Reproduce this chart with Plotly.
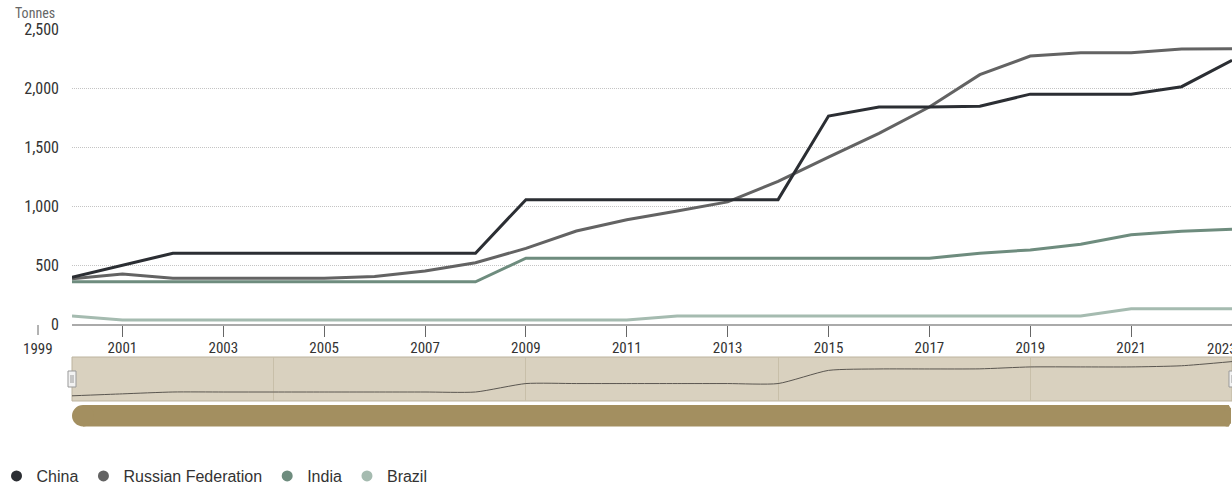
import plotly.graph_objects as go

years = list(range(2000, 2024))
china = [395, 500, 600, 600, 600, 600, 600, 600, 600, 1054, 1054, 1054, 1054, 1054, 1054,
         1762, 1839, 1839, 1845, 1948, 1948, 1948, 2011, 2235]
russia = [384, 423, 388, 387, 387, 387, 402, 450, 519, 641, 788, 883, 958, 1035, 1208,
          1415, 1615, 1839, 2113, 2271, 2299, 2299, 2330, 2333]
india = [358, 358, 358, 358, 358, 358, 358, 358, 358, 558, 558, 558, 558, 558, 558,
         558, 558, 558, 600, 628, 676, 757, 785, 803]
brazil = [67, 34, 34, 34, 34, 34, 34, 34, 34, 34, 34, 34, 67, 67, 67,
          67, 67, 67, 67, 67, 67, 130, 130, 130]

series_names = ["China", "Russian Federation", "India", "Brazil"]
series_values = [china, russia, india, brazil]
series_colors = ["#2b2e33", "#636363", "#6e8c7e", "#a5bbb0"]

y_ticks = [0, 500, 1000, 1500, 2000, 2500]
y_tick_labels = ["0", "500", "1,000", "1,500", "2,000", "2,500"]
x_ticks = list(range(2001, 2022, 2))
x_tick_labels = [str(v) for v in x_ticks]
x_edge_labels = ["1999", "2023"]  # justified labels at both ends of the axis

W, H = 1232, 486
ML, MR, MT, MB = 72, 0, 29, 59
PW, PH = W - ML - MR, H - MT - MB

def fy(px):  # figure pixel y -> paper fraction
    return (H - MB - px) / PH

NARROW = "Liberation Sans Narrow, Arial Narrow, Roboto Condensed, Roboto, sans-serif"
SANS = "Liberation Sans, Arial, sans-serif"

fig = go.Figure()

# main series (drawn last-to-first so China sits on top)
for name, vals, col in reversed(list(zip(series_names, series_values, series_colors))):
    fig.add_trace(go.Scatter(x=years, y=vals, mode="lines", name=name,
                             line=dict(color=col, width=3), legendgroup=name,
                             showlegend=False, xaxis="x", yaxis="y",
                             hovertemplate="%{x}: %{y:,} t<extra>" + name + "</extra>"))

# legend entries (dots)
for name, col in zip(series_names, series_colors):
    fig.add_trace(go.Scatter(x=[None], y=[None], mode="markers", name=name,
                             marker=dict(color=col, size=11), legendgroup=name,
                             showlegend=True, xaxis="x", yaxis="y"))

# navigator series
fig.add_trace(go.Scatter(x=years, y=china, mode="lines",
                         line=dict(color="#5a5650", width=1, shape="spline", smoothing=0.6),
                         showlegend=False, hoverinfo="skip", xaxis="x2", yaxis="y2"))

main_bottom = fy(324)
nav_bottom, nav_top = fy(401), fy(357)

fig.update_layout(
    width=W, height=H,
    margin=dict(l=ML, r=MR, t=MT, b=MB, autoexpand=False),
    paper_bgcolor="white", plot_bgcolor="white",
    font=dict(family=NARROW, color="#333333"),
    xaxis=dict(domain=[0, 1], range=[2000, 2023], tickmode="array", tickvals=x_ticks,
               ticktext=x_tick_labels, ticks="outside", ticklen=11, tickwidth=1,
               tickcolor="#666666", showline=True, linecolor="#aaaaaa", linewidth=2,
               showgrid=False, zeroline=False, anchor="y", ticklabelstandoff=-2,
               tickfont=dict(family=NARROW, size=15, color="#333333"), fixedrange=True),
    yaxis=dict(domain=[main_bottom, 1], range=[0, 2500], tickmode="array", tickvals=y_ticks,
               ticktext=y_tick_labels, showgrid=True, gridcolor="#c4c4c4", griddash="1px,1px",
               gridwidth=1, zeroline=False, showline=False, ticks="", ticklabelstandoff=12,
               tickfont=dict(family=NARROW, size=16, color="#333333"), anchor="x",
               fixedrange=True),
    xaxis2=dict(domain=[0, 1], range=[2000, 2023], tickmode="linear", tick0=2004, dtick=5,
                showgrid=True, gridcolor="#c8bfa9", gridwidth=1, showticklabels=False,
                ticks="", zeroline=False, showline=False, anchor="y2", fixedrange=True),
    yaxis2=dict(domain=[nav_bottom, nav_top], range=[116, 2482], showgrid=False,
                showticklabels=False, ticks="", zeroline=False, showline=False,
                anchor="x2", fixedrange=True),
    legend=dict(orientation="h", x=-ML / PW - 0.003, xanchor="left", y=fy(476), yanchor="middle",
                font=dict(family=SANS, size=16, color="#333333"), itemwidth=30,
                bgcolor="rgba(0,0,0,0)", itemclick="toggle"),
    showlegend=True,
    hovermode="x unified",
)

shapes = []
# navigator background
shapes.append(dict(type="rect", xref="paper", yref="paper", x0=0, x1=1, y0=nav_bottom, y1=nav_top,
                   fillcolor="#d9d1bf", line=dict(color="#bdb49f", width=1), layer="below"))
# scrollbar (rounded bar)
sb_bottom, sb_top = fy(426.5), fy(405)
r = 11
shapes.append(dict(type="rect", xref="paper", yref="paper", x0=r / PW, x1=1 - 3 / PW, y0=sb_bottom, y1=sb_top,
                   fillcolor="#a38f60", line=dict(width=0)))
shapes.append(dict(type="circle", xref="paper", yref="paper", xsizemode="pixel", ysizemode="pixel",
                   xanchor=0, yanchor=(sb_bottom + sb_top) / 2, x0=0, x1=2 * r, y0=-r + 0.25, y1=r - 0.25,
                   fillcolor="#a38f60", line=dict(width=0)))
shapes.append(dict(type="rect", xref="paper", yref="paper", xsizemode="pixel", ysizemode="pixel",
                   xanchor=1, yanchor=(sb_bottom + sb_top) / 2, x0=-6, x1=-1, y0=-r + 3, y1=r - 3,
                   fillcolor="#a38f60", line=dict(width=0)))
shapes.append(dict(type="circle", xref="paper", yref="paper", xsizemode="pixel", ysizemode="pixel",
                   xanchor=1, yanchor=sb_bottom, x0=-8, x1=-2, y0=0, y1=6,
                   fillcolor="#a38f60", line=dict(width=0)))
shapes.append(dict(type="circle", xref="paper", yref="paper", xsizemode="pixel", ysizemode="pixel",
                   xanchor=1, yanchor=sb_top, x0=-8, x1=-2, y0=-6, y1=0,
                   fillcolor="#a38f60", line=dict(width=0)))
# navigator handles
hy = fy(379)
for xa, x0, x1 in [(0, -4, 4), (1, -3, 5)]:
    shapes.append(dict(type="rect", xref="paper", yref="paper", xsizemode="pixel", ysizemode="pixel",
                       xanchor=xa, yanchor=hy, x0=x0, x1=x1, y0=-8, y1=8,
                       fillcolor="#f2f2f2", line=dict(color="#999999", width=1)))
    for dx in (-1, 1):
        shapes.append(dict(type="line", xref="paper", yref="paper", xsizemode="pixel", ysizemode="pixel",
                           xanchor=xa, yanchor=hy, x0=(x0 + x1) / 2 + dx, x1=(x0 + x1) / 2 + dx, y0=-4, y1=4,
                           line=dict(color="#999999", width=1)))
# off-axis 1999 tick
shapes.append(dict(type="line", xref="paper", yref="paper", xsizemode="pixel", ysizemode="pixel",
                   xanchor=0, yanchor=main_bottom, x0=-34, x1=-34, y0=-1, y1=-11,
                   line=dict(color="#666666", width=1)))
fig.update_layout(shapes=shapes)

fig.add_annotation(text="Tonnes", xref="paper", yref="paper", x=0, xshift=-15, xanchor="right",
                   y=fy(13), yanchor="middle", showarrow=False,
                   font=dict(family=NARROW, size=14, color="#666666"))
fig.add_annotation(text=x_edge_labels[0], xref="paper", yref="paper", x=0, xshift=-34, xanchor="center",
                   y=fy(349), yanchor="middle", showarrow=False,
                   font=dict(family=NARROW, size=15, color="#333333"))
fig.add_annotation(text=x_edge_labels[1], xref="paper", yref="paper", x=1, xshift=-27, xanchor="left",
                   y=fy(349), yanchor="middle", showarrow=False,
                   font=dict(family=NARROW, size=15, color="#333333"))

fig.write_html("out.html", config={"displayModeBar": False},
               post_script="document.body.style.margin='0';document.body.style.padding='0';")
